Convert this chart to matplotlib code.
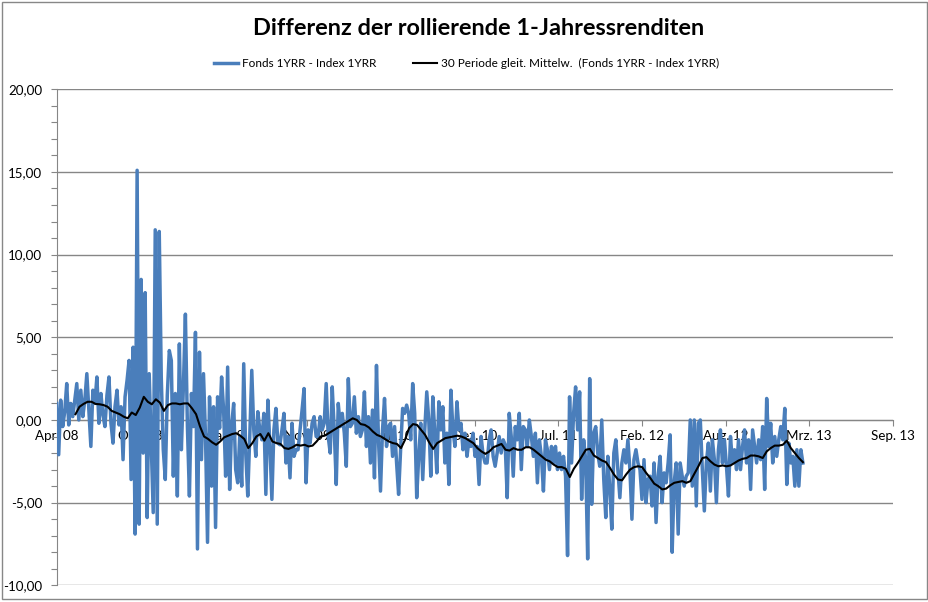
import pandas as pd
import matplotlib
matplotlib.use('Agg')
import matplotlib.pyplot as plt
import matplotlib.ticker as mticker
from matplotlib.patches import Rectangle

plt.rcParams['font.family'] = ['Lato', 'DejaVu Sans']

# daily difference fund 1y return - index 1y return (thinned)
fonds_minus_index = [
    1.0, -2.1, 1.2, -0.4, 0.5, 2.2, -0.3, 1.0, 0.2, 1.2,
    2.2, 0.0, 1.8, 0.2, 1.2, 2.8, 0.6, -1.6, 1.8, 1.0,
    2.6, -0.2, 1.6, 0.3, -0.4, 1.5, 2.6, -0.2, -1.4, 0.8,
    1.8, -0.3, 0.8, -2.4, 1.4, 2.4, 3.6, -3.6, 4.4, -6.9,
    15.1, -6.3, 8.5, -2.0, 7.7, -5.9, 2.8, -1.5, -5.6, 11.5,
    -6.3, 11.4, 2.6, -1.8, -3.6, 1.5, 4.2, 3.6, -3.4, 1.6,
    -4.6, 4.6, -1.8, 2.0, 6.4, -0.4, -4.6, 1.6, -0.4, 5.3,
    -7.8, 4.1, -2.4, 2.8, -1.0, -7.4, 1.4, -4.0, 0.8, -6.5,
    1.4, -0.5, 2.6, 0.6, -3.4, 3.2, -4.2, -0.3, 1.0, -3.0,
    -3.8, -1.0, -4.0, 3.4, -2.0, -4.6, -1.0, 3.0, -0.6, -2.2,
    0.5, -0.6, -1.2, 0.4, -4.5, 1.2, -1.5, -4.8, -0.6, 0.7,
    -1.4, -1.5, -0.6, 0.4, -2.6, -1.0, -3.5, -0.2, -2.2, -1.8,
    -1.8, -0.6, 0.6, 1.9, -3.8, -0.6, -1.4, -0.2, 0.2, -1.0,
    -1.0, 0.2, -0.6, -0.2, 2.2, -1.0, -2.0, 2.0, -0.6, -3.9,
    1.0, -0.4, 0.4, -0.8, -2.8, 2.5, -0.4, -0.2, 1.4, -0.8,
    0.2, -1.0, -0.6, 1.7, -1.6, 0.2, -2.6, 0.6, -3.5, 3.3,
    -1.2, -4.3, -0.6, 1.3, -1.6, -0.4, -0.2, -2.2, -0.4, -2.6,
    -4.5, -1.8, 0.7, 0.4, 0.9, 0.4, -1.2, 2.2, 0.4, -4.7,
    -2.2, -0.2, -3.6, -0.6, 1.7, 0.0, -3.4, 1.4, -0.8, -3.2,
    1.1, -0.6, 0.8, -2.6, -0.8, -3.9, 1.8, -0.6, -1.6, 1.1,
    -0.6, -0.2, -1.8, -0.8, -2.2, -1.2, -1.6, -0.8, -2.2, -1.6,
    -3.9, -1.0, -2.1, -2.6, -2.6, -1.2, -0.6, -2.2, -2.8, -2.0,
    -1.0, -2.0, -1.2, -1.5, -4.7, 0.4, -1.0, -3.4, -0.4, -1.2,
    0.4, -3.0, -0.4, -0.6, -1.6, 0.0, -1.0, -2.2, -0.8, -3.8,
    -1.2, -2.2, -4.3, -1.2, -1.8, -3.0, -1.6, -2.6, -1.6, -3.0,
    -2.0, -3.0, -2.2, -3.4, -8.2, 1.4, -2.6, 0.4, 2.0, -0.6,
    1.7, -4.8, -1.2, -2.4, -8.4, 2.5, -5.1, -0.8, -0.4, -2.0,
    -2.8, 0.0, -3.6, -5.9, -2.2, -4.2, -6.6, -2.0, -1.2, -3.0,
    -4.7, -2.6, -1.8, -2.6, -1.2, -3.0, -6.0, -2.4, -1.8, -2.6,
    -3.0, -4.8, -2.4, -5.0, -3.6, -3.4, -5.2, -2.6, -6.2, -3.4,
    -2.2, -5.0, -3.2, -3.8, -2.6, -0.9, -8.0, -3.8, -2.6, -6.9,
    -2.6, -3.4, -4.0, -3.4, -3.2, 0.0, -4.0, 0.0, -5.2, -0.2,
    0.0, -3.0, -5.5, -2.6, -1.4, -4.3, -1.2, -2.4, -5.0, -1.8,
    -0.6, -2.6, -1.2, -2.8, -4.6, -1.0, -2.6, -1.8, -3.0, -1.2,
    -3.0, -1.6, -0.6, -2.6, -1.2, -4.2, -0.6, -1.6, -2.6, -1.2,
    -2.4, -0.4, -4.2, 1.3, -1.6, -0.2, -2.6, -1.0, -2.2, -1.2,
    -0.4, -1.2, 0.7, -3.9, -1.4, -2.6, -2.2, -4.0, -1.8, -4.0,
    -1.8, -2.6,
]

# 30 period moving average
ma30 = [
    0.35, 0.8, 0.97, 1.1, 1.1, 0.97, 0.95, 0.9, 0.8, 0.55,
    0.45, 0.35, 0.2, 0.1, 0.45, 0.3, 0.75, 1.4, 1.1, 0.95,
    1.25, 1.05, 0.55, 0.9, 1.0, 1.0, 0.95, 1.0, 1.0, 0.7,
    0.35, -0.4, -1.0, -1.15, -1.35, -1.5, -1.3, -1.05, -0.95, -0.85,
    -0.8, -0.95, -1.15, -1.7, -1.4, -1.0, -0.85, -1.25, -0.8, -1.3,
    -1.4, -1.45, -1.7, -1.75, -1.65, -1.5, -1.55, -1.5, -1.6, -1.55,
    -1.3, -1.0, -0.95, -0.8, -0.65, -0.5, -0.35, -0.2, -0.05, 0.1,
    0.0, -0.25, -0.3, -0.45, -0.7, -0.9, -1.0, -1.15, -1.3, -1.4,
    -1.45, -1.7, -1.2, -0.5, -0.25, -0.3, -0.6, -0.9, -1.35, -1.75,
    -1.4, -1.25, -1.1, -1.05, -1.0, -0.95, -1.0, -1.1, -1.25, -1.4,
    -1.7, -1.9, -2.05, -1.9, -1.65, -1.55, -1.45, -1.8, -1.85, -1.7,
    -1.8, -1.8, -1.65, -1.65, -1.8, -2.0, -2.2, -2.4, -2.5, -2.7,
    -2.85, -2.85, -2.95, -3.45, -2.95, -2.6, -2.2, -1.8, -1.75, -2.15,
    -2.3, -2.45, -2.55, -2.9, -3.3, -3.6, -3.65, -3.3, -3.0, -2.85,
    -2.8, -2.85, -3.2, -3.5, -3.85, -4.0, -4.2, -4.15, -3.95, -3.8,
    -3.75, -3.7, -3.8, -3.7, -3.25, -2.8, -2.3, -2.25, -2.5, -2.7,
    -2.8, -2.75, -2.8, -2.75, -2.6, -2.45, -2.35, -2.3, -2.15, -2.15,
    -2.2, -2.3, -1.9, -1.7, -1.55, -1.55, -1.5, -1.25, -1.7, -2.0,
    -2.3, -2.55,
]

x_labels = ['Apr. 08', 'Okt. 08', 'Mai 09', 'Nov. 09', 'Jun. 10', 'Dez. 10',
            'Jul. 11', 'Feb. 12', 'Aug. 12', 'Mrz. 13', 'Sep. 13']

dates = pd.date_range('2008-04-02', '2013-02-20', periods=len(fonds_minus_index))
ma_dates = pd.date_range('2008-05-17', '2013-02-20', periods=len(ma30))

x_start = pd.Timestamp('2008-04-02')
x_ticks = [x_start + pd.Timedelta(days=200 * k) for k in range(len(x_labels))]

grey = '#868686'

fig = plt.figure(figsize=(9.29, 6.02), dpi=100)
ax = fig.add_axes([0.0610, 0.0277, 0.9000, 0.8240])

ax.plot(dates, fonds_minus_index, color='#4A7EBB', lw=2.5,
        solid_joinstyle='round', label='Fonds 1YRR - Index 1YRR', zorder=2)
ax.plot(ma_dates, ma30, color='black', lw=1.5,
        label='30 Periode gleit. Mittelw.  (Fonds 1YRR - Index 1YRR)', zorder=3)

ax.set_xlim(x_ticks[0], x_ticks[-1])
ax.set_xticks(x_ticks)
ax.set_xticklabels(x_labels)

ax.set_ylim(-10, 20)
ax.yaxis.set_major_locator(mticker.MultipleLocator(5))
ax.yaxis.set_minor_locator(mticker.MultipleLocator(1))
ax.yaxis.set_major_formatter(mticker.FuncFormatter(lambda v, p: f'{v:.2f}'.replace('.', ',')))

ax.grid(axis='y', which='major', color=grey, lw=1.0)
ax.set_axisbelow(True)

for s in ['top', 'right']:
    ax.spines[s].set_visible(False)
ax.spines['left'].set_color(grey)
ax.spines['bottom'].set_color(grey)
ax.spines['bottom'].set_position(('data', 0))
ax.spines['bottom'].set_zorder(0.6)
ax.spines['left'].set_zorder(0.6)

ax.tick_params(axis='y', which='both', direction='out', length=4, width=0.8,
               color=grey, labelsize=9.6, pad=6.5)
ax.tick_params(axis='x', direction='out', length=4, width=0.8,
               color=grey, labelsize=9.6, pad=3.5)

fig.text(479 / 929, 1 - 35 / 602, 'Differenz der rollierende 1-Jahressrenditen',
         ha='center', va='baseline', fontsize=16.9, fontweight='bold')

fig.legend(loc='center', bbox_to_anchor=(466.5 / 929, 1 - 63.5 / 602), ncol=2,
           frameon=False, fontsize=8.5, handlelength=2.0, handletextpad=0.35,
           columnspacing=3.1)

fig.add_artist(Rectangle((0.0018, 0.0045), 0.9957, 0.9914, transform=fig.transFigure,
                         fill=False, edgecolor='#878787', lw=1.0))

fig.savefig('out.png', dpi=100)
